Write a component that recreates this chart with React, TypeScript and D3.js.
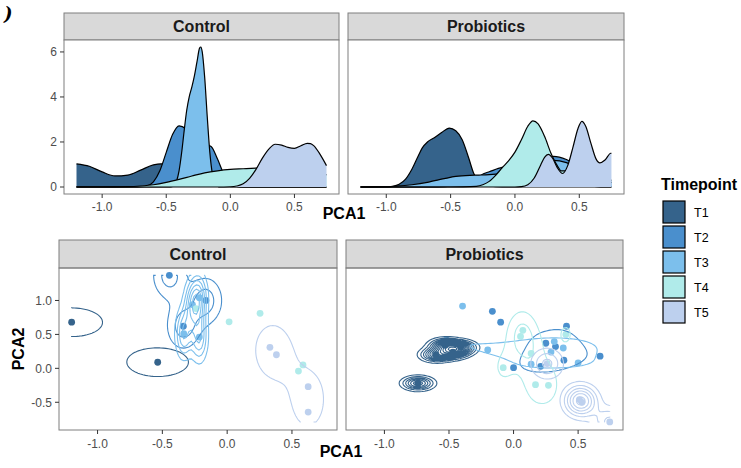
import { useMemo } from 'react';
import * as d3 from 'd3';

const timepoints = ['T1', 'T2', 'T3', 'T4', 'T5'];
const tpColors = ['#35638b', '#4a8fcd', '#7cbfec', '#b0ebea', '#bdd0ee'];
const groups = ['Control', 'Probiotics'];

// density of PCA1, [PCA1, density]
const ctrlDensT1 = [[-1.2, 1.03], [-1.1, 0.92], [-1.0, 0.67], [-0.9, 0.49], [-0.8, 0.53], [-0.7, 0.75], [-0.6, 0.98], [-0.54, 1.03], [-0.45, 0.93], [-0.35, 0.65], [-0.25, 0.35], [-0.15, 0.14], [-0.05, 0.045], [0.05, 0.01], [0.15, 0], [0.75, 0]];
const ctrlDensT2 = [[-1.2, 0], [-0.75, 0], [-0.7, 0.01], [-0.65, 0.05], [-0.6, 0.23], [-0.55, 0.72], [-0.5, 1.54], [-0.45, 2.34], [-0.4, 2.72], [-0.35, 2.6], [-0.3, 2.17], [-0.25, 1.88], [-0.2, 1.9], [-0.15, 1.8], [-0.1, 1.24], [-0.05, 0.57], [0, 0.17], [0.05, 0.03], [0.1, 0.004], [0.15, 0], [0.75, 0]];
const ctrlDensT3 = [[-1.2, 0], [-0.47, 0], [-0.44, 0.06], [-0.42, 0.26], [-0.4, 0.72], [-0.38, 1.52], [-0.36, 2.51], [-0.34, 3.42], [-0.32, 4.03], [-0.3, 4.45], [-0.28, 4.95], [-0.26, 5.57], [-0.24, 6.17], [-0.23, 6.22], [-0.22, 6.03], [-0.2, 4.86], [-0.18, 3.11], [-0.16, 1.54], [-0.14, 0.58], [-0.12, 0.17], [-0.1, 0.035], [-0.08, 0], [0.75, 0]];
const ctrlDensT4 = [[-1.2, 0], [-1.0, 0.001], [-0.8, 0.015], [-0.7, 0.045], [-0.6, 0.1], [-0.5, 0.205], [-0.4, 0.34], [-0.3, 0.49], [-0.2, 0.63], [-0.1, 0.72], [0, 0.78], [0.1, 0.81], [0.2, 0.84], [0.3, 0.88], [0.4, 0.91], [0.5, 0.91], [0.6, 0.83], [0.7, 0.65], [0.75, 0.54]];
const ctrlDensT5 = [[-1.2, 0], [-0.1, 0], [0, 0.011], [0.05, 0.043], [0.1, 0.14], [0.15, 0.38], [0.2, 0.78], [0.25, 1.28], [0.3, 1.68], [0.35, 1.9], [0.4, 1.86], [0.45, 1.76], [0.5, 1.72], [0.55, 1.83], [0.6, 1.94], [0.625, 1.93], [0.65, 1.84], [0.7, 1.45], [0.75, 0.95]];

const probDensT1 = [[-1.2, 0], [-1.0, 0.005], [-0.95, 0.03], [-0.9, 0.12], [-0.85, 0.35], [-0.8, 0.8], [-0.75, 1.4], [-0.72, 1.74], [-0.68, 2.0], [-0.63, 2.18], [-0.57, 2.42], [-0.51, 2.62], [-0.46, 2.5], [-0.41, 2.1], [-0.36, 1.3], [-0.32, 0.6], [-0.28, 0.25], [-0.22, 0.07], [-0.15, 0.015], [-0.05, 0], [0.75, 0]];
const probDensT2 = [[-1.2, 0], [-0.7, 0.002], [-0.6, 0.007], [-0.5, 0.04], [-0.4, 0.15], [-0.3, 0.4], [-0.24, 0.6], [-0.2, 0.68], [-0.1, 0.87], [0, 0.93], [0.1, 1.02], [0.2, 1.22], [0.3, 1.36], [0.4, 1.22], [0.5, 0.9], [0.6, 0.6], [0.7, 0.39], [0.75, 0.3]];
const probDensT3 = [[-1.2, 0], [-1.0, 0.01], [-0.92, 0.035], [-0.8, 0.1], [-0.67, 0.22], [-0.55, 0.37], [-0.46, 0.47], [-0.35, 0.52], [-0.28, 0.53], [-0.2, 0.55], [-0.1, 0.62], [0, 0.75], [0.1, 0.92], [0.2, 1.08], [0.3, 1.18], [0.4, 1.08], [0.5, 0.82], [0.6, 0.52], [0.7, 0.28], [0.75, 0.2]];
const probDensT4 = [[-1.2, 0], [-0.5, 0], [-0.4, 0.005], [-0.3, 0.03], [-0.25, 0.1], [-0.2, 0.25], [-0.15, 0.52], [-0.1, 0.85], [-0.05, 1.16], [0, 1.55], [0.05, 2.1], [0.1, 2.7], [0.14, 2.94], [0.18, 2.8], [0.23, 2.25], [0.28, 1.5], [0.33, 0.94], [0.36, 0.72], [0.4, 0.72], [0.44, 0.6], [0.5, 0.3], [0.55, 0.12], [0.6, 0.04], [0.7, 0.005], [0.75, 0]];
const probDensT5 = [[-1.2, 0], [0, 0], [0.05, 0.015], [0.1, 0.1], [0.15, 0.4], [0.2, 0.98], [0.23, 1.32], [0.26, 1.45], [0.29, 1.3], [0.33, 0.85], [0.37, 0.6], [0.41, 0.95], [0.45, 1.75], [0.49, 2.6], [0.52, 2.92], [0.55, 2.7], [0.59, 1.95], [0.63, 1.25], [0.66, 1.07], [0.7, 1.2], [0.745, 1.5], [0.75, 1.5]];

// PCA scores, [PCA1, PCA2]
const ctrlPtsT1 = [[-1.2, 0.68], [-0.536, 0.09]];
const ctrlPtsT2 = [[-0.446, 1.37], [-0.338, 0.62], [-0.164, 1.0]];
const ctrlPtsT3 = [[-0.335, 0.51], [-0.268, 0.94], [-0.215, 1.04], [-0.215, 0.46]];
const ctrlPtsT4 = [[-0.24, 0.88], [0.015, 0.685], [0.254, 0.81], [0.55, -0.04], [0.585, 0.05]];
const ctrlPtsT5 = [[0.33, 0.31], [0.38, 0.2], [0.625, -0.27], [0.625, -0.645]];

const probPtsT1 = [[-0.74, -0.22], [-0.6, 0.2], [-0.53, 0.34], [-0.47, 0.24], [-0.41, 0.31]];
const probPtsT2 = [[-0.164, 0.84], [-0.1, 0.68], [0.0, 0.01], [0.21, 0.03], [0.25, 0.37], [0.325, 0.32], [0.39, 0.12], [0.41, 0.62], [0.67, 0.18]];
const probPtsT3 = [[-0.52, 0.42], [-0.395, 0.917], [-0.2, 0.27], [0.136, 0.06], [0.29, 0.24], [0.315, 0.395], [0.385, 0.3], [0.5, 0.08]];
const probPtsT4 = [[-0.08, 0.01], [0.054, 0.47], [0.072, 0.56], [0.136, 0.22], [0.17, -0.24], [0.27, -0.25], [0.405, 0.5]];
const probPtsT5 = [[0.26, 0.07], [0.51, -0.46], [0.53, -0.5], [0.745, -0.79]];

const densities: Record<string, number[][][]> = {
  Control: [ctrlDensT1, ctrlDensT2, ctrlDensT3, ctrlDensT4, ctrlDensT5],
  Probiotics: [probDensT1, probDensT2, probDensT3, probDensT4, probDensT5],
};
const scores: Record<string, number[][][]> = {
  Control: [ctrlPtsT1, ctrlPtsT2, ctrlPtsT3, ctrlPtsT4, ctrlPtsT5],
  Probiotics: [probPtsT1, probPtsT2, probPtsT3, probPtsT4, probPtsT5],
};

const xTicks = [-1, -0.5, 0, 0.5];
const yTicksTop = [0, 2, 4, 6];
const yTicksBottom = [-0.5, 0, 0.5, 1];

const NGRID = 100;
const FONT = "'Liberation Sans', Arial, Helvetica, sans-serif";

// MASS::bandwidth.nrd
function bandwidthNrd(v: number[]) {
  const s = [...v].sort(d3.ascending);
  const iqr = (d3.quantileSorted(s, 0.75) as number) - (d3.quantileSorted(s, 0.25) as number);
  const sd = d3.deviation(s) as number;
  return 4 * 1.06 * Math.min(sd, iqr / 1.34) * Math.pow(s.length, -0.2);
}

// MASS::kde2d on a fixed grid
function kde2d(pts: number[][], gx: number[], gy: number[]) {
  const hx = bandwidthNrd(pts.map(p => p[0])) / 4;
  const hy = bandwidthNrd(pts.map(p => p[1])) / 4;
  const z: number[] = new Array(NGRID * NGRID);
  for (let j = 0; j < NGRID; j++) {
    for (let i = 0; i < NGRID; i++) {
      let s = 0;
      for (const p of pts) {
        const a = (gx[i] - p[0]) / hx;
        const b = (gy[j] - p[1]) / hy;
        s += Math.exp(-0.5 * (a * a + b * b));
      }
      z[j * NGRID + i] = s / (2 * Math.PI * pts.length * hx * hy);
    }
  }
  return z;
}

const topPanels = [
  { g: 'Control', x0: 64, x1: 339 },
  { g: 'Probiotics', x0: 348, x1: 624 },
];
const botPanels = [
  { g: 'Control', x0: 59, x1: 337 },
  { g: 'Probiotics', x0: 346, x1: 623 },
];
const TOP = { strip: 13, y0: 40, y1: 194 };
const BOT = { strip: 240, y0: 268, y1: 430 };
const xDomain = [-1.2975, 0.8475];

const fmt1 = (v: number) => v.toFixed(1);

export default function App() {
  const yTop = d3.scaleLinear().domain([-0.311, 6.531]).range([TOP.y1, TOP.y0]);
  const yBot = d3.scaleLinear().domain([-0.9085, 1.4785]).range([BOT.y1, BOT.y0]);

  const contourData = useMemo(() => {
    const all = groups.flatMap(g => scores[g].flat());
    const [xmin, xmax] = d3.extent(all, p => p[0]) as [number, number];
    const [ymin, ymax] = d3.extent(all, p => p[1]) as [number, number];
    const gx = d3.range(NGRID).map(i => xmin + (i * (xmax - xmin)) / (NGRID - 1));
    const gy = d3.range(NGRID).map(j => ymin + (j * (ymax - ymin)) / (NGRID - 1));
    const grids: Record<string, number[][]> = {};
    let zmax = 0;
    for (const g of groups) {
      grids[g] = scores[g].map(pts => kde2d(pts, gx, gy));
      grids[g].forEach(z => { zmax = Math.max(zmax, d3.max(z) as number); });
    }
    const breaks = d3.ticks(0, zmax, 10).filter(b => b > 0);
    const gen = d3.contours().size([NGRID, NGRID]).thresholds(breaks);
    const dx = (xmax - xmin) / (NGRID - 1);
    const dy = (ymax - ymin) / (NGRID - 1);
    const out: Record<string, { rings: number[][][] }[]> = {};
    for (const g of groups) {
      out[g] = grids[g].map(z => {
        const rings: number[][][] = [];
        gen(z).forEach(mp => {
          mp.coordinates.forEach(poly => poly.forEach(ring => {
            rings.push(ring.map(([cx, cy]) => [
              cx, cy,
              Math.min(xmax, Math.max(xmin, xmin + (cx - 0.5) * dx)),
              Math.min(ymax, Math.max(ymin, ymin + (cy - 0.5) * dy)),
            ]));
          }));
        });
        return { rings };
      });
    }
    return out;
  }, []);

  // contour lines stay open where they meet the edge of the density grid
  const onEdge = (c: number[]) => c[0] <= 0 || c[0] >= NGRID || c[1] <= 0 || c[1] >= NGRID;

  const ringPath = (ring: number[][], x: d3.ScaleLinear<number, number>) => {
    let d = '';
    let pen = false;
    for (let k = 1; k < ring.length; k++) {
      const a = ring[k - 1];
      const b = ring[k];
      if (onEdge(a) && onEdge(b)) { pen = false; continue; }
      if (!pen) { d += `M${x(a[2]).toFixed(2)},${yBot(a[3]).toFixed(2)}`; pen = true; }
      d += `L${x(b[2]).toFixed(2)},${yBot(b[3]).toFixed(2)}`;
    }
    return d;
  };

  const strip = (x0: number, x1: number, y0: number, y1: number, label: string) => (
    <g>
      <rect x={x0} y={y0} width={x1 - x0} height={y1 - y0} fill="#d9d9d9" stroke="#7f7f7f" strokeWidth={1} />
      <text x={(x0 + x1) / 2} y={(y0 + y1) / 2 + 5.6} textAnchor="middle" fontSize={16} fontWeight="bold" fill="#1a1a1a">{label}</text>
    </g>
  );

  return (
    <svg width={741} height={468} style={{ position: 'absolute', left: 0, top: 0, background: '#fff' }} fontFamily={FONT}>
      <text x={4} y={20} fontSize={18} fontWeight="bold" fontStyle="italic" fontFamily="'DejaVu Serif', serif" fill="#000">)</text>

      {/* density panels */}
      {topPanels.map((p, pi) => {
        const x = d3.scaleLinear().domain(xDomain).range([p.x0, p.x1]);
        const area = d3.area<number[]>().x(d => x(d[0])).y0(yTop(0)).y1(d => yTop(d[1])).curve(d3.curveMonotoneX);
        const line = d3.line<number[]>().x(d => x(d[0])).y(d => yTop(d[1])).curve(d3.curveMonotoneX);
        return (
          <g key={p.g}>
            {strip(p.x0, p.x1, TOP.strip, TOP.y0, p.g)}
            <rect x={p.x0} y={TOP.y0} width={p.x1 - p.x0} height={TOP.y1 - TOP.y0} fill="#fff" />
            {densities[p.g].map((dd, i) => (
              <g key={i}>
                <path d={area(dd) || ''} fill={tpColors[i]} />
                <path d={line(dd) || ''} fill="none" stroke="#000" strokeWidth={1.2} />
              </g>
            ))}
            <rect x={p.x0} y={TOP.y0} width={p.x1 - p.x0} height={TOP.y1 - TOP.y0} fill="none" stroke="#7f7f7f" strokeWidth={1} />
            {xTicks.map(t => (
              <g key={t}>
                <line x1={x(t)} x2={x(t)} y1={TOP.y1} y2={TOP.y1 + 4} stroke="#333" />
                <text x={x(t)} y={TOP.y1 + 17} textAnchor="middle" fontSize={12} fill="#4d4d4d">{fmt1(t)}</text>
              </g>
            ))}
            {pi === 0 && yTicksTop.map(t => (
              <g key={t}>
                <line x1={p.x0 - 4} x2={p.x0} y1={yTop(t)} y2={yTop(t)} stroke="#333" />
                <text x={p.x0 - 7} y={yTop(t) + 4.3} textAnchor="end" fontSize={12} fill="#4d4d4d">{t}</text>
              </g>
            ))}
          </g>
        );
      })}
      <text x={344} y={219} textAnchor="middle" fontSize={16} fontWeight="bold" fill="#000">PCA1</text>

      {/* PCA panels */}
      {botPanels.map((p, pi) => {
        const x = d3.scaleLinear().domain(xDomain).range([p.x0, p.x1]);
        const clipId = `clip-${p.g}`;
        return (
          <g key={p.g}>
            <defs>
              <clipPath id={clipId}>
                <rect x={p.x0} y={BOT.y0} width={p.x1 - p.x0} height={BOT.y1 - BOT.y0} />
              </clipPath>
            </defs>
            {strip(p.x0, p.x1, BOT.strip, BOT.y0, p.g)}
            <g clipPath={`url(#${clipId})`}>
              {scores[p.g].map((pts, i) => pts.map((d, k) => (
                <circle key={`${i}-${k}`} cx={x(d[0])} cy={yBot(d[1])} r={3.4} fill={tpColors[i]} />
              )))}
              {contourData[p.g].map((c, i) => (
                <path key={i} d={c.rings.map(r => ringPath(r, x)).join('')} fill="none" stroke={tpColors[i]} strokeWidth={1.1} />
              ))}
            </g>
            <rect x={p.x0} y={BOT.y0} width={p.x1 - p.x0} height={BOT.y1 - BOT.y0} fill="none" stroke="#7f7f7f" strokeWidth={1} />
            {xTicks.map(t => (
              <g key={t}>
                <line x1={x(t)} x2={x(t)} y1={BOT.y1} y2={BOT.y1 + 4} stroke="#333" />
                <text x={x(t)} y={BOT.y1 + 18} textAnchor="middle" fontSize={12} fill="#4d4d4d">{fmt1(t)}</text>
              </g>
            ))}
            {pi === 0 && yTicksBottom.map(t => (
              <g key={t}>
                <line x1={p.x0 - 4} x2={p.x0} y1={yBot(t)} y2={yBot(t)} stroke="#333" />
                <text x={p.x0 - 7} y={yBot(t) + 4.3} textAnchor="end" fontSize={12} fill="#4d4d4d">{fmt1(t)}</text>
              </g>
            ))}
          </g>
        );
      })}
      <text x={341} y={457} textAnchor="middle" fontSize={16} fontWeight="bold" fill="#000">PCA1</text>
      <text transform="translate(24,349) rotate(-90)" textAnchor="middle" fontSize={16} fontWeight="bold" fill="#000">PCA2</text>

      {/* legend */}
      <text x={661} y={190} fontSize={16} fontWeight="bold" fill="#000">Timepoint</text>
      {timepoints.map((t, i) => (
        <g key={t}>
          <rect x={663} y={201 + i * 25} width={22} height={22} fill={tpColors[i]} stroke="#000" strokeWidth={1.2} />
          <text x={694} y={216.5 + i * 25} fontSize={12.5} fill="#000">{t}</text>
        </g>
      ))}
    </svg>
  );
}
